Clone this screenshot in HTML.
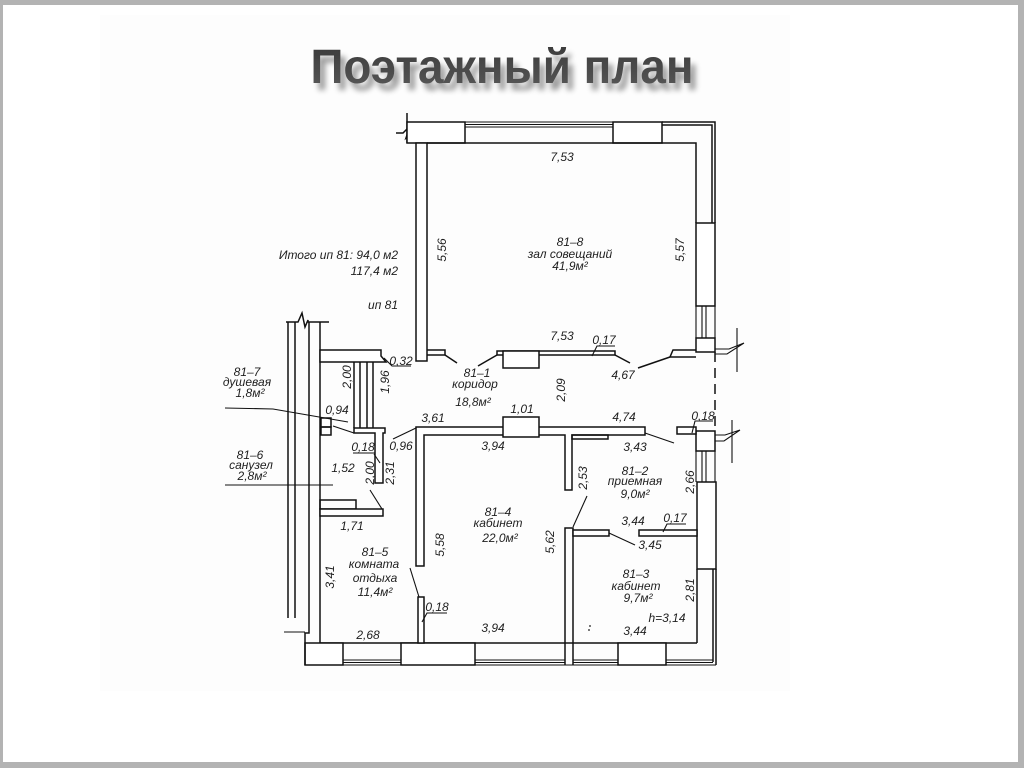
<!DOCTYPE html>
<html><head><meta charset="utf-8">
<style>
html,body{margin:0;padding:0;background:#b3b3b3;}
#wrap{position:relative;width:1024px;height:768px;overflow:hidden;background:#b3b3b3;}
svg{position:absolute;left:0;top:0;}
.t{font-family:"Liberation Sans","DejaVu Sans",sans-serif;font-style:italic;font-size:12px;fill:#1e1e1e;text-anchor:middle;}
.e{text-anchor:end;}
</style></head>
<body><div id="wrap">
<svg width="1024" height="768" viewBox="0 0 1024 768" xmlns="http://www.w3.org/2000/svg">
<defs>
<filter id="sh" x="-10%" y="-30%" width="130%" height="180%">
<feGaussianBlur in="SourceAlpha" stdDeviation="3"/>
<feOffset dx="5" dy="7" result="b"/>
<feComponentTransfer><feFuncA type="linear" slope="0.4"/></feComponentTransfer>
<feMerge><feMergeNode/><feMergeNode in="SourceGraphic"/></feMerge>
</filter>
<linearGradient id="tg" x1="0" y1="0" x2="0" y2="1">
<stop offset="0" stop-color="#383838"/><stop offset="1" stop-color="#5a5a5a"/>
</linearGradient>
</defs>
<rect x="3" y="5" width="1015" height="757" fill="#ffffff"/>
<rect x="100" y="15" width="690" height="676" fill="#fdfdfd"/>

<text x="502" y="83" text-anchor="middle" font-family="Liberation Sans, Arial, sans-serif" font-weight="bold" font-size="48" textLength="383" lengthAdjust="spacingAndGlyphs" fill="url(#tg)" filter="url(#sh)">Поэтажный план</text>

<g stroke="#111" stroke-width="1.5" fill="none" stroke-linejoin="miter">
<!-- top wall -->
<path d="M407 113 V143"/>
<path d="M396 133 H403 L410 126 L406 138 L413 132 H418"/>
<rect x="407" y="122" width="58" height="21" fill="#fff"/>
<path d="M465 122 H613 M465 124.5 H613 M465 127 H613" stroke-width="1"/>
<rect x="613" y="122" width="49" height="21" fill="#fff"/>
<path d="M662 122 H715 V223 M662 125 H712 V223"/>
<path d="M427 143 H696 V223"/>
<!-- right wall -->
<rect x="696" y="223" width="19" height="83" fill="#fff"/>
<path d="M696 306 V338 M702 306 V338 M706 306 V338 M715 306 V338" stroke-width="1.1"/>
<rect x="696" y="338" width="19" height="14" fill="#fff"/>
<path d="M715 352 V431" stroke-dasharray="10,6"/>
<rect x="696" y="431" width="19" height="20" fill="#fff"/>
<path d="M696 451 V482 M702 451 V482 M706 451 V482 M715 451 V482" stroke-width="1.1"/>
<rect x="697" y="482" width="19" height="87" fill="#fff"/>
<path d="M697 569 V643 M713 569 V662 M716 569 V665"/>
<!-- right breaks -->
<path d="M737 328 V372 M715 349 H729 L744 343 M715 354 H727 L744 343" stroke-width="1.1"/>
<path d="M732 420 V463 M715 435 H725 L740 430 M715 441 H724 L740 430" stroke-width="1.1"/>
<!-- bottom wall -->
<path d="M320 643 H697"/>
<path d="M305 665 H716 M343 660 H565 M573 660 H713 M343 662.5 H565 M573 662.5 H713" stroke-width="1.1"/>
<rect x="305" y="643" width="38" height="22" fill="#fff"/>
<rect x="401" y="643" width="74" height="22" fill="#fff"/>
<rect x="618" y="643" width="48" height="22" fill="#fff"/>
<!-- left side -->
<path d="M309 322 V633 H305 V665"/>
<path d="M320 322 V643"/>
<path d="M288 322 V618 M295 322 V618"/>
<path d="M286 322 H298 L302 313 L305 327 L308 320 V322 H329"/>
<path d="M284 632 H305" stroke-width="1"/>
<!-- hall left wall -->
<rect x="416" y="143" width="11" height="218" fill="#fff"/>
<path d="M427 350 H445 V355 H427"/>
<path d="M445 355 L457 363"/>
<!-- corridor upper wall -->
<rect x="497" y="351" width="118" height="4" fill="#fff"/>
<path d="M497 355 L478 366"/>
<rect x="503" y="351" width="36" height="17" fill="#fff"/>
<path d="M615 355 L630 363"/>
<path d="M592 356 L597 346 H615" stroke-width="1.1"/>
<path d="M696 350 H673 L670 357 H696"/>
<path d="M670 357 L638 368"/>
<!-- bathroom -->
<path d="M320 350 H381 V356 L386 362 H320 Z" fill="#fff"/>
<path d="M384 358 L392 366 H411" stroke-width="1.1"/>
<path d="M354 362 V428 M360 362 V428 M367 362 V428 M373 362 V428"/>
<path d="M354 428 H385 V433 H383 V483 H375 V433 H354 Z" fill="#fff"/>
<rect x="321" y="418" width="10" height="9"/>
<rect x="321" y="427" width="10" height="8"/>
<path d="M225 408 L273 409 L348 422" stroke-width="1.1"/>
<path d="M333 426 L354 433" stroke-width="1.1"/>
<path d="M225 485 H333" stroke-width="1.1"/>
<path d="M353 453 H375 M374 454 L380 463" stroke-width="1.1"/>
<rect x="320" y="500" width="36" height="9"/>
<rect x="320" y="509" width="63" height="7" fill="#fff"/>
<path d="M370 490 L382 509" stroke-width="1.1"/>
<!-- corridor lower wall & partitions -->
<path d="M416 566 V427 H645 V435 H572 V490 H565 V435 H424 V566 Z" fill="#fff"/>
<rect x="503" y="417" width="36" height="20" fill="#fff"/>
<rect x="572" y="435" width="36" height="4"/>
<path d="M645 433 L674 443" stroke-width="1.1"/>
<path d="M393 439 L416 428" stroke-width="1.1"/>
<rect x="677" y="427" width="19" height="7" fill="#fff"/>
<path d="M692 433 L695 421 H713" stroke-width="1.1"/>
<!-- right rooms -->
<path d="M565 665 V528 H573 V665"/>
<path d="M573 527 L587 496" stroke-width="1.1"/>
<rect x="573" y="530" width="36" height="6" fill="#fff"/>
<path d="M609 533 L635 545" stroke-width="1.1"/>
<rect x="639" y="530" width="58" height="6" fill="#fff"/>
<path d="M663 532 L667 524 H686" stroke-width="1.1"/>
<!-- 81-4/81-5 lower partition -->
<rect x="418" y="597" width="6" height="46" fill="#fff"/>
<path d="M410 568 L419 597" stroke-width="1.1"/>
<path d="M422 622 L427 613 H447" stroke-width="1.1"/>
</g>
<g fill="#1a1a1a"><circle cx="590" cy="626" r="0.9"/><circle cx="589" cy="630" r="0.9"/></g>

<!-- labels -->
<g class="lbl">
<text class="t" x="562" y="161">7,53</text>
<text class="t" transform="translate(442,250) rotate(-90)" y="4">5,56</text>
<text class="t" transform="translate(680,250) rotate(-90)" y="4">5,57</text>
<text class="t" x="570" y="246">81–8</text>
<text class="t" x="570" y="258">зал совещаний</text>
<text class="t" x="570" y="270">41,9м²</text>
<text class="t" x="562" y="340">7,53</text>
<text class="t" x="604" y="344">0,17</text>
<text class="t" x="623" y="379">4,67</text>
<text class="t e" x="398" y="259">Итого ип 81: 94,0 м2</text>
<text class="t e" x="398" y="275">117,4 м2</text>
<text class="t e" x="398" y="309">ип 81</text>
<text class="t" x="401" y="365">0,32</text>
<text class="t" x="247" y="376">81–7</text>
<text class="t" x="247" y="386">душевая</text>
<text class="t" x="250" y="397">1,8м²</text>
<text class="t" transform="translate(347,377) rotate(-90)" y="4">2,00</text>
<text class="t" transform="translate(385,382) rotate(-90)" y="4">1,96</text>
<text class="t" x="337" y="414">0,94</text>
<text class="t" x="363" y="451">0,18</text>
<text class="t" x="343" y="472">1,52</text>
<text class="t" transform="translate(370,473) rotate(-90)" y="4">2,00</text>
<text class="t" transform="translate(390,473) rotate(-90)" y="4">2,31</text>
<text class="t" x="250" y="459">81–6</text>
<text class="t" x="251" y="469">санузел</text>
<text class="t" x="252" y="480">2,8м²</text>
<text class="t" x="352" y="530">1,71</text>
<text class="t" x="433" y="422">3,61</text>
<text class="t" x="401" y="450">0,96</text>
<text class="t" x="477" y="377">81–1</text>
<text class="t" x="475" y="388">коридор</text>
<text class="t" x="473" y="406">18,8м²</text>
<text class="t" transform="translate(561,390) rotate(-90)" y="4">2,09</text>
<text class="t" x="522" y="413">1,01</text>
<text class="t" x="493" y="450">3,94</text>
<text class="t" x="624" y="421">4,74</text>
<text class="t" x="635" y="451">3,43</text>
<text class="t" x="703" y="420">0,18</text>
<text class="t" x="635" y="475">81–2</text>
<text class="t" x="635" y="485">приемная</text>
<text class="t" x="635" y="498">9,0м²</text>
<text class="t" transform="translate(583,478) rotate(-90)" y="4">2,53</text>
<text class="t" transform="translate(690,482) rotate(-90)" y="4">2,66</text>
<text class="t" x="633" y="525">3,44</text>
<text class="t" x="675" y="522">0,17</text>
<text class="t" x="650" y="549">3,45</text>
<text class="t" x="636" y="578">81–3</text>
<text class="t" x="636" y="590">кабинет</text>
<text class="t" x="638" y="602">9,7м²</text>
<text class="t" transform="translate(690,590) rotate(-90)" y="4">2,81</text>
<text class="t" x="667" y="622">h=3,14</text>
<text class="t" x="635" y="635">3,44</text>
<text class="t" x="498" y="516">81–4</text>
<text class="t" x="498" y="527">кабинет</text>
<text class="t" x="500" y="542">22,0м²</text>
<text class="t" transform="translate(440,545) rotate(-90)" y="4">5,58</text>
<text class="t" transform="translate(550,542) rotate(-90)" y="4">5,62</text>
<text class="t" x="375" y="556">81–5</text>
<text class="t" x="374" y="568">комната</text>
<text class="t" x="375" y="582">отдыха</text>
<text class="t" x="375" y="596">11,4м²</text>
<text class="t" transform="translate(330,577) rotate(-90)" y="4">3,41</text>
<text class="t" x="437" y="611">0,18</text>
<text class="t" x="368" y="639">2,68</text>
<text class="t" x="493" y="632">3,94</text>
</g>
</svg>
</div></body></html>
